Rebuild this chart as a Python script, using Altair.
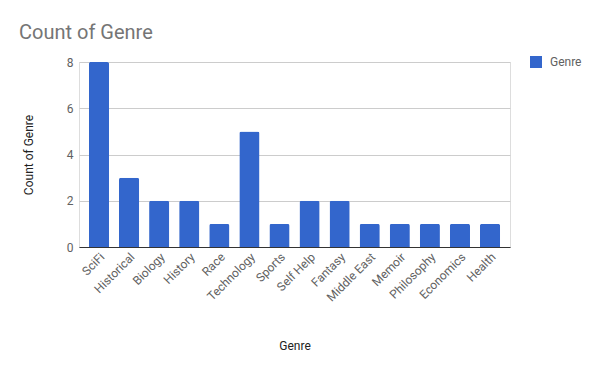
import altair as alt
import pandas as pd

genres = ["SciFi", "Historical", "Biology", "History", "Race", "Technology", "Sports",
          "Self Help", "Fantasy", "Middle East", "Memoir", "Philosophy", "Economics", "Health"]
counts = [8, 3, 2, 2, 1, 5, 1, 2, 2, 1, 1, 1, 1, 1]
series = ["Genre"] * len(genres)

df = pd.DataFrame({"Genre": genres, "Count": counts, "Series": series})

FONT = "Roboto"
LABEL = "#616161"

chart = alt.Chart(df).mark_bar(
    cornerRadiusTopLeft=2, cornerRadiusTopRight=2
).encode(
    x=alt.X("Genre:N", sort=genres,
            scale=alt.Scale(paddingInner=0.33, paddingOuter=0.33),
            axis=alt.Axis(title="Genre", labelAngle=-45, labelAlign="right",
                          labelBaseline="top", labelPadding=4, ticks=False,
                          domainColor="#333333", domainWidth=1,
                          labelColor=LABEL, labelFontSize=12, labelFont=FONT,
                          titleFont=FONT, titleFontSize=12, titleFontWeight="normal",
                          titleColor="#222222", titleY=98, titleBaseline="middle")),
    y=alt.Y("Count:Q", scale=alt.Scale(domain=[0, 8]),
            axis=alt.Axis(title="Count of Genre", values=[0, 2, 4, 6, 8], ticks=False,
                          domain=False, gridColor="#cccccc", labelPadding=6,
                          labelColor=LABEL, labelFontSize=12, labelFont=FONT,
                          titleFont=FONT, titleFontSize=12, titleFontWeight="normal",
                          titleColor="#222222", titleX=-51, titleBaseline="middle")),
    color=alt.Color("Series:N",
                    scale=alt.Scale(domain=["Genre"], range=["#3366cc"]),
                    legend=alt.Legend(title=None, orient="none", legendX=451, legendY=-6,
                                      symbolType="square", symbolSize=144,
                                      symbolStrokeWidth=0,
                                      labelFont=FONT, labelFontSize=12,
                                      labelColor=LABEL, labelOffset=8)),
).properties(
    width=431, height=185,
    title=alt.TitleParams("Count of Genre", anchor="start", dx=-3, offset=13,
                          fontSize=20, font=FONT, fontWeight="normal", color="#757575"),
    autosize=alt.AutoSizeParams(type="none"),
    padding={"left": 79, "top": 62, "right": 90, "bottom": 124},
).configure_view(stroke=None).configure(background="white")

chart.save("out.html", embed_options={"renderer": "svg", "actions": False})
